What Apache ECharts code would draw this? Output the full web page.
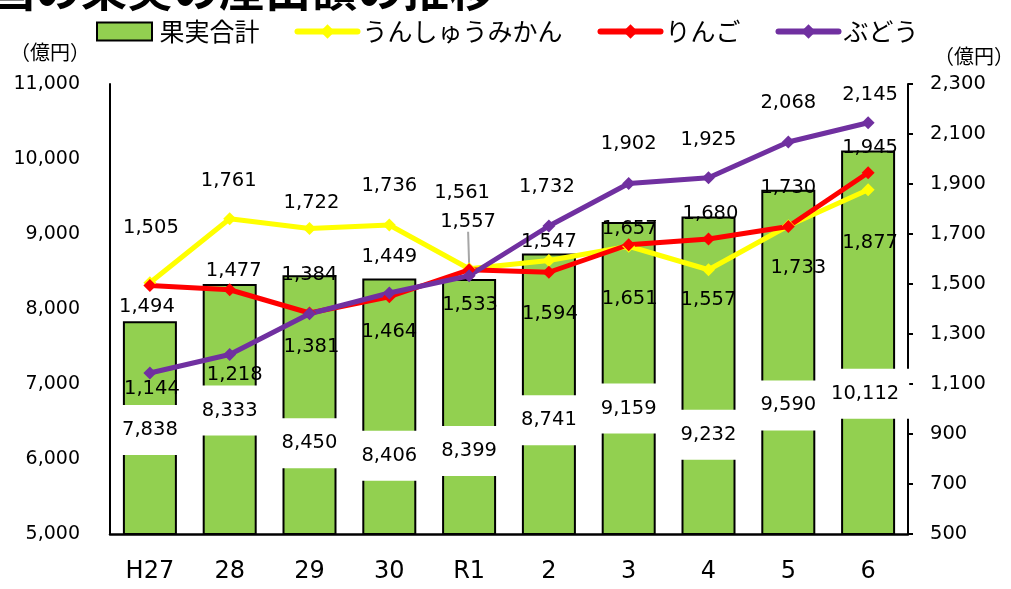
<!DOCTYPE html>
<html>
<head>
<meta charset="utf-8">
<script src="https://cdn.jsdelivr.net/npm/echarts@6/dist/echarts.min.js"></script>
<style>
html,body{margin:0;padding:0;background:#fff;}
#chart{width:1011px;height:589px;}
</style>
</head>
<body>
<div id="chart"></div>
<script>
// ---- data ----
const categories = ['H27', '28', '29', '30', 'R1', '2', '3', '4', '5', '6'];
const fruitTotal = [7838, 8333, 8450, 8406, 8399, 8741, 9159, 9232, 9590, 10112];
const mikan = [1505, 1761, 1722, 1736, 1561, 1594, 1651, 1557, 1733, 1877];
const apple = [1494, 1477, 1384, 1449, 1557, 1547, 1657, 1680, 1730, 1945];
const grape = [1144, 1218, 1381, 1464, 1533, 1732, 1902, 1925, 2068, 2145];
const seriesNames = ['果実合計', 'うんしゅうみかん', 'りんご', 'ぶどう'];
const leftAxisRange = [5000, 11000, 1000];
const rightAxisRange = [500, 2300, 200];
const unitLabel = '（億円）';
const titleText = '全国の果実の産出額の推移';

// ---- label placement (layout only) ----
const totalLabelOffset = [[0,2],[0,1],[0,38],[0,49],[0,44],[0,26],[0,30],[0,59],[0,43],[-3,51]];
const mikanLabelOffset = [[1,-55],[-1,-38],[2,-26],[0,-39],[-7,-76],[1,53],[1,53],[0,30],[10,42],[2,53]];
const appleLabelOffset = [[-3,21],[4,-19],[0,-38],[0,-40],[-1,-48],[0,-30],[1,-16],[2,-25],[0,-39],[2,-25]];
const grapeLabelOffset = [[2,16],[5,20],[2,33],[0,39],[1,29],[-2,-39],[0,-40],[0,-38],[0,-39],[2,-28]];

const fmt = v => Number(v).toLocaleString('en-US');
const NUM_FONT = 'DejaVu Sans';
const JP_FONT = 'Noto Sans CJK JP';

function lineData(values, offsets, extra) {
  return values.map((v, i) => {
    const item = { value: v, label: { offset: offsets[i] } };
    if (extra && extra[i]) Object.assign(item, extra[i]);
    return item;
  });
}

const chart = echarts.init(document.getElementById('chart'), null, { renderer: 'canvas' });

const lineLabel = {
  show: true,
  position: 'inside',
  formatter: p => fmt(p.value),
  color: '#000',
  fontFamily: NUM_FONT,
  fontSize: 19.5
};

const legendLine = { width: 6, cap: 'round' };

const option = {
  backgroundColor: '#fff',
  animation: false,
  graphic: [{
    type: 'text',
    x: -57,
    y: 12,
    style: {
      text: titleText,
      font: 'bold 46px "Noto Sans CJK JP"',
      fill: '#000',
      textVerticalAlign: 'bottom'
    }
  }],
  legend: {
    top: 14,
    left: 91,
    itemWidth: 60,
    itemHeight: 18,
    itemGap: 35,
    textStyle: { fontFamily: JP_FONT, fontSize: 25, color: '#000' },
    data: [
      { name: seriesNames[0], icon: 'path://M0,0h55v18h-55z' },
      { name: seriesNames[1], lineStyle: legendLine },
      { name: seriesNames[2], lineStyle: legendLine },
      { name: seriesNames[3], lineStyle: legendLine }
    ]
  },
  grid: { left: 110, right: 103, top: 84, bottom: 55, containLabel: false, outerBoundsMode: 'none' },
  xAxis: {
    type: 'category',
    data: categories,
    axisLine: { lineStyle: { color: '#000', width: 2.5 } },
    axisTick: { show: false },
    axisLabel: { color: '#000', fontFamily: NUM_FONT, fontSize: 24, margin: 26 }
  },
  yAxis: [{
    type: 'value',
    min: leftAxisRange[0], max: leftAxisRange[1], interval: leftAxisRange[2],
    name: unitLabel,
    nameLocation: 'end',
    nameGap: 22,
    nameTextStyle: { color: '#000', fontFamily: JP_FONT, fontSize: 20, align: 'right', padding: [0, 20, 0, 0] },
    axisLine: { show: true, lineStyle: { color: '#000', width: 2 } },
    axisTick: { show: false },
    splitLine: { show: false },
    axisLabel: { color: '#000', fontFamily: NUM_FONT, fontSize: 19, margin: 30, formatter: fmt }
  }, {
    type: 'value',
    position: 'right',
    min: rightAxisRange[0], max: rightAxisRange[1], interval: rightAxisRange[2],
    name: unitLabel,
    nameLocation: 'end',
    nameGap: 18,
    nameTextStyle: { color: '#000', fontFamily: JP_FONT, fontSize: 20, align: 'left', padding: [0, 0, 0, 26] },
    axisLine: { show: true, lineStyle: { color: '#000', width: 2 } },
    axisTick: { show: true, length: 5, lineStyle: { color: '#000', width: 2 } },
    splitLine: { show: false },
    axisLabel: { color: '#000', fontFamily: NUM_FONT, fontSize: 19.5, margin: 22, formatter: fmt }
  }],
  series: [{
    name: seriesNames[0],
    type: 'bar',
    yAxisIndex: 0,
    barWidth: 54,
    itemStyle: { color: '#92D050', borderColor: '#000', borderWidth: 2 },
    label: {
      show: true,
      position: 'inside',
      formatter: p => fmt(p.value),
      color: '#000',
      fontFamily: NUM_FONT,
      fontSize: 19.5,
      lineHeight: 22,
      backgroundColor: '#fff',
      padding: [14, 10]
    },
    data: fruitTotal.map((v, i) => ({ value: v, label: { offset: totalLabelOffset[i] } }))
  }, {
    name: seriesNames[1],
    type: 'line',
    yAxisIndex: 1,
    symbol: 'diamond',
    symbolSize: 13,
    color: '#FFFF00',
    lineStyle: { width: 5, color: '#FFFF00' },
    itemStyle: { color: '#FFFF00' },
    label: lineLabel,
    data: lineData(mikan, mikanLabelOffset)
  }, {
    name: seriesNames[2],
    type: 'line',
    yAxisIndex: 1,
    symbol: 'diamond',
    symbolSize: 13,
    color: '#FF0000',
    lineStyle: { width: 5, color: '#FF0000' },
    itemStyle: { color: '#FF0000' },
    label: lineLabel,
    labelLine: { show: false },
    data: lineData(apple, appleLabelOffset, { 4: { labelLine: { show: true, lineStyle: { color: '#A6A6A6', width: 2 } } } })
  }, {
    name: seriesNames[3],
    type: 'line',
    yAxisIndex: 1,
    symbol: 'diamond',
    symbolSize: 13,
    color: '#7030A0',
    lineStyle: { width: 5, color: '#7030A0' },
    itemStyle: { color: '#7030A0' },
    label: lineLabel,
    data: lineData(grape, grapeLabelOffset)
  }]
};
chart.setOption(option);
</script>
</body>
</html>
